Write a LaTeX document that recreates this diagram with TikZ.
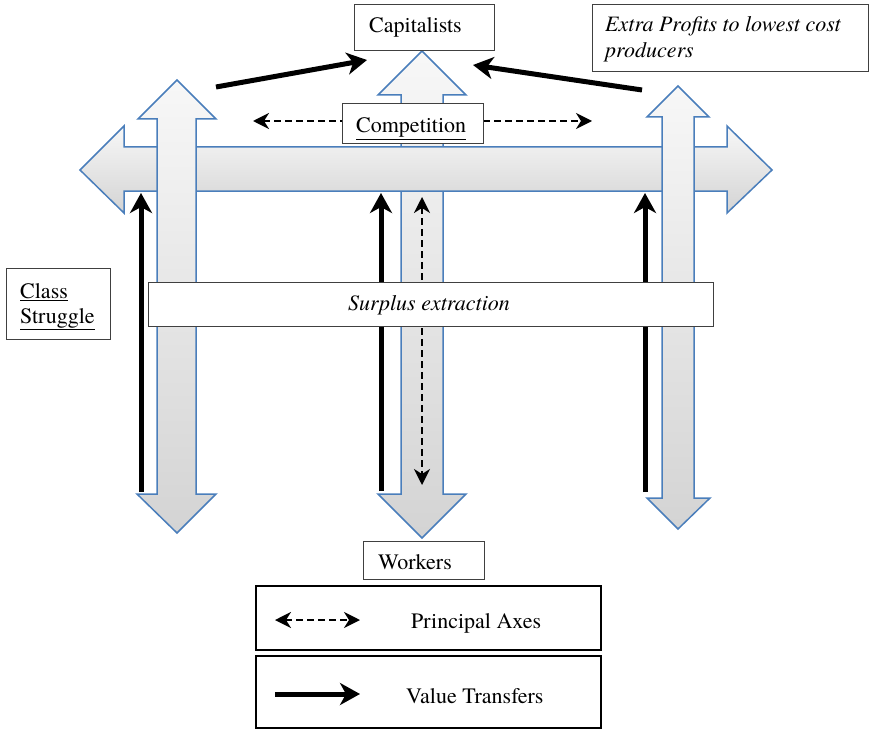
\documentclass[tikz,border=0pt]{standalone}
\usepackage{fontspec}
\setmainfont{texgyretermes}[Extension=.otf, UprightFont=*-regular, ItalicFont=*-italic, BoldFont=*-bold, BoldItalicFont=*-bolditalic]
\usetikzlibrary{arrows.meta}
\definecolor{arrowblue}{HTML}{4A7EBB}
\definecolor{boxgray}{HTML}{404040}
\begin{document}
\begin{tikzpicture}[x=1pt,y=-1pt,
  bigarrow/.style={draw=arrowblue, line width=1.5pt, top color=white!97!black, bottom color=white!83!black, line join=miter},
  box/.style={draw=boxgray, line width=1pt, fill=white, rectangle, inner sep=0pt},
  legendbox/.style={draw=black, line width=2pt, fill=white, rectangle, inner sep=0pt},
  txt/.style={font=\rmfamily\fontsize{22}{26}\selectfont, inner sep=0pt, anchor=base west},
  transfer/.style={line width=5pt, -{Stealth[length=20pt,width=22pt,inset=6pt]}},
  axis/.style={line width=2pt, dash pattern=on 7pt off 4pt, {Stealth[length=16pt,width=16pt,inset=5pt]}-{Stealth[length=16pt,width=16pt,inset=5pt]}},
]
\useasboundingbox (0,0) rectangle (869,730);

% big double arrows
\draw[bigarrow] (422,51) -- (466,95) -- (443,95) -- (443,494) -- (466,494) -- (422,538) -- (378,494) -- (401,494) -- (401,95) -- (378,95) -- cycle;
\draw[bigarrow] (80,170) -- (124,126) -- (124,147) -- (727,147) -- (727,126) -- (772,170) -- (727,213) -- (727,191) -- (124,191) -- (124,213) -- cycle;
\draw[bigarrow] (177,80) -- (216,119) -- (196,119) -- (196,494) -- (216,494) -- (177,533) -- (137,494) -- (157,494) -- (157,119) -- (138,119) -- cycle;
\draw[bigarrow] (678,86) -- (709,117) -- (694,117) -- (694,498) -- (710,498) -- (678,529) -- (647,498) -- (662,498) -- (662,117) -- (647,117) -- cycle;

% coordinates
\coordinate (compL) at (253,121);
\coordinate (compR) at (592,121);
\coordinate (surT) at (422,197);
\coordinate (surB) at (422,485);
\coordinate (ta1) at (216,87);
\coordinate (ta2) at (367,60);
\coordinate (tb1) at (642,90);
\coordinate (tb2) at (473,65);
\coordinate (v1a) at (141,492);
\coordinate (v1b) at (141,193);
\coordinate (v2a) at (381,491);
\coordinate (v2b) at (381,193);
\coordinate (v3a) at (645,492);
\coordinate (v3b) at (645,193);

% principal axes
\draw[axis] (compL) -- (compR);
\draw[axis] (surT) -- (surB);

% value transfers
\draw[transfer] (ta1) -- (ta2);
\draw[transfer] (tb1) -- (tb2);
\draw[transfer] (v1a) -- (v1b);
\draw[transfer] (v2a) -- (v2b);
\draw[transfer] (v3a) -- (v3b);

% boxes
\node[box, minimum width=140pt, minimum height=46pt] (cap) at (424,28) {};
\node[box, minimum width=141pt, minimum height=40pt] (comp) at (412.5,124) {};
\node[box, minimum width=276pt, minimum height=67pt] (extra) at (730,38.5) {};
\node[box, minimum width=104pt, minimum height=71pt] (class) at (58,303.5) {};
\node[box, minimum width=565pt, minimum height=44pt] (surplus) at (430.5,304) {};
\node[box, minimum width=121pt, minimum height=38pt] (workers) at (423.5,560) {};
\node[legendbox, minimum width=345pt, minimum height=64pt] (leg1) at (428.5,618) {};
\node[legendbox, minimum width=345pt, minimum height=72pt] (leg2) at (428.5,692) {};

% texts
\node[txt] (capt) at (369,33) {Capitalists};
\node[txt] (compt) at (356,133) {\underline{Competition}};
\node[txt] (extra1) at (605,32) {\itshape Extra Profits to lowest cost};
\node[txt] (extra2) at (605,58) {\itshape producers};
\node[txt] (class1) at (20,298) {\underline{Class}};
\node[txt] (class2) at (20,323) {\underline{Struggle}};
\node[txt] (surt) at (348,310) {\itshape Surplus extraction};
\node[txt] (workt) at (378,569) {Workers};
\node[txt] (pat) at (411,628) {Principal Axes};
\node[txt] (vtt) at (406,703) {Value Transfers};

% legend arrows
\coordinate (la1) at (275,620);
\coordinate (la2) at (360,620);
\coordinate (lb1) at (275,694);
\coordinate (lb2) at (360,694);
\draw[axis] (la1) -- (la2);
\draw[transfer] (lb1) -- (lb2);
\end{tikzpicture}
\end{document}
